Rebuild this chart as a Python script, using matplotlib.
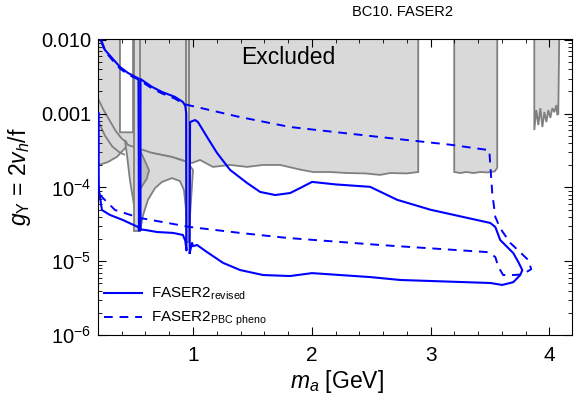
import matplotlib.pyplot as plt
from matplotlib.ticker import FixedLocator, FixedFormatter, MultipleLocator, LogLocator, NullFormatter

plt.rcParams['font.family'] = ['Liberation Sans', 'DejaVu Sans']
plt.rcParams['mathtext.fontset'] = 'custom'
plt.rcParams['mathtext.rm'] = 'Liberation Sans'
plt.rcParams['mathtext.it'] = 'Liberation Sans:italic'
plt.rcParams['mathtext.bf'] = 'Liberation Sans:bold'

# ---------------- data ----------------
# excluded regions (gray)
main_x = [0.15, 0.385, 0.385, 0.495, 0.495, 2.896, 2.896, 2.80, 2.66, 2.575, 2.45, 2.297, 2.15, 2.011,
          1.90, 1.733, 1.590, 1.455, 1.312, 1.168, 1.059, 0.992, 0.949, 0.907, 0.823, 0.739, 0.655,
          0.537, 0.452, 0.42, 0.36, 0.28, 0.20, 0.15]
main_y = [0.02, 0.02, 5.6e-4, 5.6e-4, 0.02, 0.02, 1.62e-4, 1.55e-4, 1.57e-4, 1.48e-4, 1.55e-4, 1.57e-4,
          1.62e-4, 1.62e-4, 1.75e-4, 2.02e-4, 2.02e-4, 1.90e-4, 2.02e-4, 1.90e-4, 2.36e-4, 2.15e-4,
          2.22e-4, 2.36e-4, 2.59e-4, 2.76e-4, 2.94e-4, 3.0e-4, 3.77e-4, 3.3e-4, 2.6e-4, 2.2e-4, 2.0e-4, 2.0e-4]

blob_x = [0.427, 0.444, 0.469, 0.503, 0.537, 0.553, 0.579, 0.621, 0.680, 0.739, 0.823, 0.890, 0.924,
          0.941, 0.958, 0.975, 0.992, 1.000, 0.949, 0.823, 0.655, 0.452]
blob_y = [4.4e-4, 2.76e-4, 1.26e-4, 5.8e-5, 3.4e-5, 2.5e-5, 4.2e-5, 6.8e-5, 9.8e-5, 1.19e-4, 1.34e-4,
          1.22e-4, 9.2e-5, 4.95e-5, 1.94e-5, 4.24e-5, 1.08e-4, 1.73e-4, 2.22e-4, 2.59e-4, 2.94e-4, 3.77e-4]

lens_x = [0.553, 0.600, 0.630, 0.610, 0.580, 0.555, 0.545, 0.545]
lens_y = [3.2e-4, 2.2e-4, 1.7e-4, 1.3e-4, 1.1e-4, 9.5e-5, 1.5e-4, 2.5e-4]

strip1_x = [0.503, 0.503, 0.553, 0.553]
strip1_y = [0.02, 2.6e-5, 2.6e-5, 0.02]
strip2_x = [0.941, 0.941, 0.966, 0.966]
strip2_y = [0.02, 1.8e-5, 1.8e-5, 0.02]

reg2_x = [3.199, 3.199, 3.25, 3.30, 3.36, 3.42, 3.48, 3.54, 3.561, 3.561]
reg2_y = [0.02, 1.62e-4, 1.57e-4, 1.62e-4, 1.57e-4, 1.62e-4, 1.60e-4, 1.65e-4, 1.85e-4, 0.02]

reg3_x = [3.873, 3.873, 3.89, 3.907, 3.924, 3.941, 3.958, 3.975, 3.991, 4.008, 4.025, 4.042, 4.059,
          4.067, 4.075, 4.085]
reg3_y = [0.02, 6.0e-4, 1.12e-3, 7.0e-4, 1.19e-3, 6.6e-4, 1.05e-3, 7.7e-4, 1.12e-3, 8.8e-4, 1.19e-3,
          1.05e-3, 1.31e-3, 9.6e-4, 1.0e-3, 0.02]

fan1_x = [0.20, 0.25, 0.30, 0.35, 0.40, 0.43]
fan1_y = [1.6e-3, 1.1e-3, 8.0e-4, 5.8e-4, 4.6e-4, 4.2e-4]
fan2_x = [0.20, 0.26, 0.32, 0.38, 0.42]
fan2_y = [8.0e-4, 5.0e-4, 3.6e-4, 3.0e-4, 2.8e-4]

# FASER2 revised (solid)
rev1_x = [0.205, 0.206, 0.208, 0.217, 0.233, 0.301, 0.410, 0.500, 0.541, 0.545, 0.541, 0.452, 0.385,
          0.318, 0.259, 0.222, 0.212]
rev1_y = [1.02e-3, 1.5e-4, 9.2e-5, 7.4e-5, 4.95e-5, 4.24e-5, 3.62e-5, 3.1e-5, 2.9e-5, 2.6e-5, 3.0e-3,
          3.57e-3, 4.3e-3, 5.7e-3, 7.3e-3, 1.05e-2, 1.3e-2]
rev2_x = [0.558, 0.558, 0.655, 0.739, 0.848, 0.915, 0.935, 0.943, 0.945, 0.935, 0.915, 0.832, 0.697,
          0.600, 0.558]
rev2_y = [2.7e-5, 2.95e-3, 2.31e-3, 1.97e-3, 1.69e-3, 1.44e-3, 1.28e-3, 1.0e-3, 1.4e-5, 1.9e-5, 2.27e-5,
          2.42e-5, 2.49e-5, 2.65e-5, 2.7e-5]
rev3_x = [0.972, 0.975, 1.000, 1.017, 1.042, 1.118, 1.202, 1.312, 1.455, 1.565, 1.691, 1.817, 1.901,
          2.002, 2.20, 2.491, 2.719, 2.997, 3.503, 3.545, 3.586, 3.645, 3.696, 3.738, 3.772, 3.755,
          3.696, 3.603, 3.503, 2.744, 2.491, 2.002, 1.817, 1.590, 1.396, 1.253, 1.118, 1.034, 1.000,
          0.992, 0.972]
rev3_y = [1.3e-5, 7.7e-4, 8.0e-4, 8.2e-4, 7.7e-4, 4.84e-4, 2.94e-4, 1.73e-4, 1.15e-4, 8.7e-5, 7.9e-5,
          8.4e-5, 9.8e-5, 1.19e-4, 1.10e-4, 1.02e-4, 6.8e-5, 5.0e-5, 3.3e-5, 2.91e-5, 1.94e-5, 1.56e-5,
          1.29e-5, 9.8e-6, 7.6e-6, 6.5e-6, 5.2e-6, 4.77e-6, 5.07e-6, 5.57e-6, 6.1e-6, 6.9e-6, 6.3e-6,
          6.5e-6, 7.6e-6, 9.5e-6, 1.33e-5, 1.66e-5, 1.6e-5, 1.77e-5, 1.3e-5]

# FASER2 PBC pheno (dashed)
pbc_x = [0.195, 0.205, 0.217, 0.343, 0.553, 0.975, 1.396, 1.792, 2.575, 3.477, 3.486, 3.545, 3.570,
         3.611, 3.687, 3.772, 3.847, 3.822, 3.671, 3.586, 3.545, 3.519, 3.494, 3.165, 2.744, 2.213,
         1.817, 1.396, 0.958, 0.915, 0.848, 0.739, 0.655, 0.541, 0.452, 0.385, 0.318, 0.259, 0.222, 0.21]
pbc_y = [1.3e-4, 1.0e-4, 7.9e-5, 4.95e-5, 3.86e-5, 2.91e-5, 2.42e-5, 2.07e-5, 1.66e-5, 1.33e-5,
         1.33e-5, 1.14e-5, 8.4e-6, 6.5e-6, 6.5e-6, 6.6e-6, 7.8e-6, 1.04e-5, 1.77e-5, 2.8e-5, 3.98e-5,
         8.4e-5, 3.2e-4, 3.8e-4, 4.5e-4, 5.6e-4, 6.6e-4, 9.0e-4, 1.31e-3, 1.38e-3, 1.6e-3, 1.88e-3,
         2.2e-3, 2.9e-3, 3.4e-3, 4.1e-3, 5.4e-3, 7.0e-3, 1.0e-2, 1.3e-2]

ytick_vals = [1e-6, 1e-5, 1e-4, 1e-3, 1e-2]
ytick_labels = [r'$10^{-6}$', r'$10^{-5}$', r'$10^{-4}$', '0.001', '0.010']
xtick_vals = [1, 2, 3, 4]

# ---------------- plot ----------------
fig = plt.figure(figsize=(5.75, 3.95), dpi=100)
ax = fig.add_axes([0.1704, 0.1519, 0.8243, 0.7494])

gray_face = '#d9d9d9'
gray_edge = '#808080'
for xs, ys in [(main_x, main_y), (reg2_x, reg2_y), (reg3_x, reg3_y), (blob_x, blob_y),
               (strip1_x, strip1_y), (strip2_x, strip2_y)]:
    ax.fill(xs, ys, facecolor=gray_face, edgecolor=gray_edge, lw=1.3, zorder=1)
ax.fill(lens_x, lens_y, facecolor='#bdbdbd', edgecolor=gray_edge, lw=1.3, zorder=1)
ax.plot(fan1_x, fan1_y, color=gray_edge, lw=1.3, zorder=1)
ax.plot(fan2_x, fan2_y, color=gray_edge, lw=1.3, zorder=1)

ax.plot(rev1_x, rev1_y, color='#0000ff', lw=1.5, zorder=3, label=r'FASER2$_{\mathrm{revised}}$')
ax.plot(rev2_x, rev2_y, color='#0000ff', lw=1.5, zorder=3)
ax.plot(rev3_x, rev3_y, color='#0000ff', lw=1.5, zorder=3)
ax.plot(pbc_x, pbc_y, color='#0000ff', lw=1.4, dashes=(4.5, 3.5), zorder=3,
        label=r'FASER2$_{\mathrm{PBC\ pheno}}$')

ax.text(1.80, 5.7e-3, 'Excluded', fontsize=16.5, ha='center', va='center', zorder=4)

ax.set_yscale('log')
ax.set_xlim(0.2, 4.19)
ax.set_ylim(1e-6, 1.03e-2)

ax.yaxis.set_major_locator(FixedLocator(ytick_vals))
ax.yaxis.set_major_formatter(FixedFormatter(ytick_labels))
ax.yaxis.set_minor_locator(LogLocator(base=10, subs=range(2, 10)))
ax.yaxis.set_minor_formatter(NullFormatter())
ax.xaxis.set_major_locator(FixedLocator(xtick_vals))
ax.xaxis.set_minor_locator(MultipleLocator(0.2))

ax.tick_params(which='both', direction='in', top=True, right=True)
ax.tick_params(which='major', length=6, width=0.8)
ax.tick_params(which='minor', length=3, width=0.6)
ax.tick_params(axis='x', labelsize=15, pad=8)
ax.tick_params(axis='y', labelsize=14.5, pad=5)

ax.set_xlabel(r'$m_a$ [GeV]', fontsize=16.5)
ax.xaxis.set_label_coords(0.505, -0.112)
ax.set_ylabel(r'$g_{\mathrm{Y}}$ = 2$v_h$/f', fontsize=16.5)
ax.yaxis.set_label_coords(-0.138, 0.535)
fig.text(402 / 575, 1 - 12 / 395, 'BC10. FASER2', fontsize=10.5, ha='center', va='center')

ax.legend(loc='lower left', bbox_to_anchor=(0.0, 0.002), borderaxespad=0, frameon=False,
          fontsize=11, handlelength=2.5, handletextpad=0.6, labelspacing=0.5)

plt.savefig('out.png', dpi=100)
